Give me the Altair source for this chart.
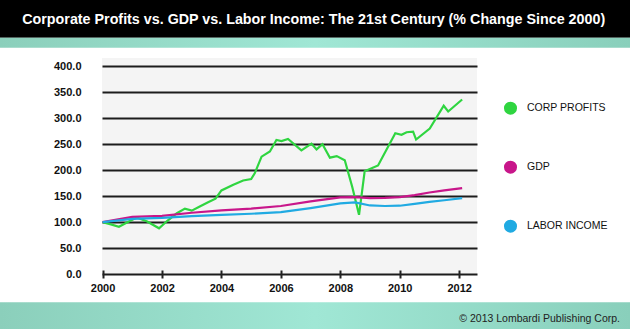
import altair as alt
import pandas as pd

# ---- data ----
series_names = ["CORP PROFITS", "GDP", "LABOR INCOME"]
series_colors = ["#2fd540", "#c8168a", "#20aae2"]

cp_years = [2000.0, 2000.25, 2000.55, 2000.85, 2001.15, 2001.5, 2001.9, 2002.15, 2002.5, 2002.77,
            2003.0, 2003.27, 2003.55, 2003.8, 2004.0, 2004.4, 2004.73, 2005.0, 2005.12, 2005.35,
            2005.63, 2005.85, 2006.02, 2006.24, 2006.69, 2007.03, 2007.2, 2007.4, 2007.65, 2007.88,
            2008.15, 2008.4, 2008.63, 2008.82, 2009.27, 2009.85, 2010.06, 2010.23, 2010.45, 2010.55,
            2011.01, 2011.48, 2011.63, 2012.1]
cp_values = [100, 96, 91, 100, 109, 101, 88, 101, 117, 126,
             122, 130, 138, 145, 161, 172, 180, 183, 194, 226,
             236, 258, 256, 260, 238, 251, 240, 250, 224, 227,
             219, 168, 114, 198, 209, 271, 268, 273, 274, 259,
             280, 324, 313, 336]

gdp_years = [2000, 2001, 2002, 2003, 2004, 2005, 2006, 2007, 2008, 2008.5,
             2009, 2009.5, 2010, 2010.5, 2011, 2011.5, 2012.1]
gdp_values = [100, 110, 112, 118, 122.5, 126, 131, 140, 147.5, 148,
              146, 146.5, 148, 152, 157, 161, 165.5]

lab_years = [2000, 2001, 2002, 2003, 2004, 2005, 2006, 2007, 2008, 2008.5,
             2009, 2009.5, 2010, 2010.5, 2011, 2011.5, 2012.1]
lab_values = [100, 106, 108, 111.5, 114, 116, 119, 127, 136, 138,
              132, 131, 131.5, 135, 139, 142, 146]

x_ticks = [2000, 2002, 2004, 2006, 2008, 2010, 2012]
y_ticks = [0, 50, 100, 150, 200, 250, 300, 350, 400]

title_text = "Corporate Profits vs. GDP vs. Labor Income: The 21st Century (% Change Since 2000)"
footer_text = "\u00a9 2013 Lombardi Publishing Corp."

rows = []
for name, ys, vs in [(series_names[0], cp_years, cp_values),
                     (series_names[1], gdp_years, gdp_values),
                     (series_names[2], lab_years, lab_values)]:
    for y, v in zip(ys, vs):
        rows.append({"series": name, "year": y, "value": v})
df = pd.DataFrame(rows)

# ---- layout (pixels) ----
PL, PT, PW, PH = 102, 58, 375, 216
W, H = 630, 329

regular = "Liberation Sans, Arial, Helvetica, sans-serif"

one = alt.Data(values=[{}])

teal = alt.LinearGradient(
    gradient="linear",
    stops=[alt.GradientStop(color="#8bcfbb", offset=0),
           alt.GradientStop(color="#a0e7d5", offset=0.5),
           alt.GradientStop(color="#89cfbb", offset=1)],
    x1=0, x2=1, y1=0, y2=0)

title_bar = alt.Chart(one).mark_rect(color="#000000").encode(
    x=alt.value(-PL), x2=alt.value(W - PL), y=alt.value(-PT), y2=alt.value(37.7 - PT))
teal_top = alt.Chart(one).mark_rect(color=teal).encode(
    x=alt.value(-PL), x2=alt.value(W - PL), y=alt.value(37.7 - PT), y2=alt.value(47.7 - PT))
teal_bottom = alt.Chart(one).mark_rect(color=teal).encode(
    x=alt.value(-PL), x2=alt.value(W - PL), y=alt.value(302.3 - PT), y2=alt.value(H - PT))

title = alt.Chart(one).mark_text(
    text=title_text, font=regular, fontWeight="bold", fontSize=14.3, color="#ffffff",
    align="center", baseline="middle").encode(x=alt.value(313.7 - PL), y=alt.value(19.5 - PT))
footer = alt.Chart(one).mark_text(
    text=footer_text, font=regular, fontSize=10.5, color="#222222",
    align="right", baseline="middle").encode(x=alt.value(620 - PL), y=alt.value(319 - PT))

x_enc = alt.X("year:Q", scale=alt.Scale(domain=[1999.98, 2012.6], nice=False),
              axis=alt.Axis(values=x_ticks, format="d", title=None, grid=False, domain=False,
                            tickSize=8, tickWidth=2, tickColor="#222222", offset=-4,
                            labelFont=regular, labelFontWeight="bold", labelFontSize=11,
                            labelColor="#111111", labelPadding=4, labelFlush=False))
y_enc = alt.Y("value:Q", scale=alt.Scale(domain=[0, 416], nice=False),
              axis=alt.Axis(values=y_ticks, format=".1f", title=None, grid=True,
                            gridColor="#1c1c1c", gridWidth=2, domain=False, ticks=False,
                            labelFont=regular, labelFontWeight="bold", labelFontSize=11,
                            labelColor="#111111", labelPadding=21, labelOverlap=False))
color_scale = alt.Scale(domain=series_names, range=series_colors)

lines = alt.Chart(df).mark_line(strokeWidth=2.2).encode(
    x=x_enc, y=y_enc,
    color=alt.Color("series:N", scale=color_scale, legend=None),
    order="year:Q")

legend_layer = alt.Chart(df).transform_filter("datum.value < 0").mark_circle(opacity=1).encode(
    x=x_enc, y=y_enc,
    color=alt.Color("series:N", scale=color_scale, sort=series_names,
                    legend=alt.Legend(orient="none", legendX=401.5, legendY=43.2,
                                      direction="vertical", title=None, symbolType="circle",
                                      symbolSize=170, symbolStrokeWidth=0, symbolOpacity=1,
                                      labelFont=regular, labelFontSize=10.5, labelColor="#111111",
                                      rowPadding=45, labelOffset=9.5, padding=0)))

chart = alt.layer(title_bar, teal_top, teal_bottom, title, footer, lines, legend_layer).properties(
    width=PW, height=PH,
    padding={"left": PL, "top": PT, "right": W - PL - PW, "bottom": H - PT - PH},
    autosize=alt.AutoSizeParams(type="none"),
    background="#ffffff",
).resolve_legend(color="independent").configure_view(fill="#f4f4f4", strokeWidth=0)

chart.save("out.html", embed_options={"renderer": "svg", "actions": False})
